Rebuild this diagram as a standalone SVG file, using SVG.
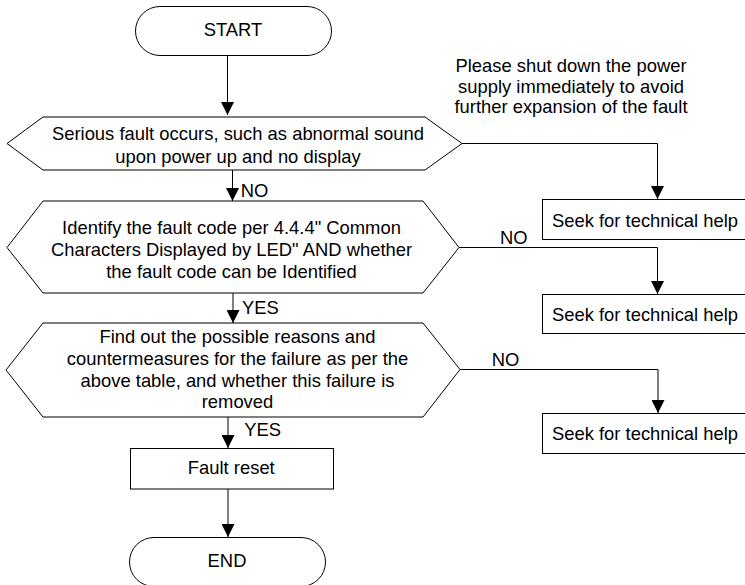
<svg xmlns="http://www.w3.org/2000/svg" width="745" height="585" viewBox="0 0 745 585">
<style>
.s{fill:#fff;stroke:#000;stroke-width:1}
.c{fill:none;stroke:#000;stroke-width:1}
text{font-family:"Liberation Sans",Arial,sans-serif;font-size:18.4px;fill:#000}
.m{text-anchor:middle}
</style>
<defs>
<marker id="ah" markerUnits="userSpaceOnUse" markerWidth="13" markerHeight="13" refX="13" refY="6.5" orient="auto">
<path d="M0,0 L13,6.5 L0,13 z" fill="#000"/>
</marker>
</defs>
<rect width="745" height="585" fill="#fff"/>
<g id="connectors">
<line class="c" x1="227.5" y1="55" x2="227.5" y2="115" marker-end="url(#ah)"/>
<line class="c" x1="232.5" y1="170" x2="232.5" y2="201" marker-end="url(#ah)"/>
<line class="c" x1="233" y1="293" x2="233" y2="323" marker-end="url(#ah)"/>
<line class="c" x1="228" y1="417" x2="228" y2="448" marker-end="url(#ah)"/>
<line class="c" x1="228" y1="489" x2="228" y2="537" marker-end="url(#ah)"/>
<polyline class="c" points="462,143.5 657.5,143.5 657.5,199" marker-end="url(#ah)"/>
<polyline class="c" points="459,247.5 657.5,247.5 657.5,294" marker-end="url(#ah)"/>
<polyline class="c" points="460,369.5 658,369.5 658,413" marker-end="url(#ah)"/>
<text x="240.7" y="196.7">NO</text>
<text x="242" y="314">YES</text>
<text x="244.3" y="435.7">YES</text>
<text x="500" y="244">NO</text>
<text x="491.7" y="365.7">NO</text>
</g>
<g id="start">
<rect class="s" x="135.5" y="6.5" width="196" height="49" rx="24.5"/>
<text class="m" x="233" y="36">START</text>
</g>
<g id="note">
<text class="m" x="571" y="72.3">Please shut down the power</text>
<text class="m" x="571" y="92.5">supply immediately to avoid</text>
<text class="m" x="571" y="112.5">further expansion of the fault</text>
</g>
<g id="decision1">
<polygon class="s" points="7,143.5 43,117 425,117 462,143.5 425,170 43,170"/>
<text class="m" x="238" y="140">Serious fault occurs, such as abnormal sound</text>
<text class="m" x="238" y="162.5">upon power up and no display</text>
</g>
<g id="decision2">
<polygon class="s" points="7,247.5 43,201 423,201 459,247.5 423,293 43,293"/>
<text class="m" x="231.5" y="234">Identify the fault code per 4.4.4" Common</text>
<text class="m" x="231.5" y="256">Characters Displayed by LED" AND whether</text>
<text class="m" x="231.5" y="278">the fault code can be Identified</text>
</g>
<g id="decision3">
<polygon class="s" points="6,370 43,323 423,323 460,369.5 423,417 43,417"/>
<text class="m" x="237.5" y="343.3">Find out the possible reasons and</text>
<text class="m" x="237.5" y="365">countermeasures for the failure as per the</text>
<text class="m" x="237.5" y="386.7">above table, and whether this failure is</text>
<text class="m" x="237.5" y="408.3">removed</text>
</g>
<g id="help1">
<rect class="s" x="542.5" y="199.5" width="210" height="40"/>
<text class="m" x="645" y="226.7">Seek for technical help</text>
</g>
<g id="help2">
<rect class="s" x="542.5" y="294.5" width="210" height="39"/>
<text class="m" x="645" y="320.5">Seek for technical help</text>
</g>
<g id="help3">
<rect class="s" x="542.5" y="413.5" width="210" height="40"/>
<text class="m" x="645" y="440">Seek for technical help</text>
</g>
<g id="reset">
<rect class="s" x="130.5" y="448.5" width="203" height="40.5"/>
<text class="m" x="231.3" y="474">Fault reset</text>
</g>
<g id="end">
<rect class="s" x="129.5" y="537.5" width="196" height="49" rx="24.5"/>
<text class="m" x="227" y="566.7">END</text>
</g>
</svg>
